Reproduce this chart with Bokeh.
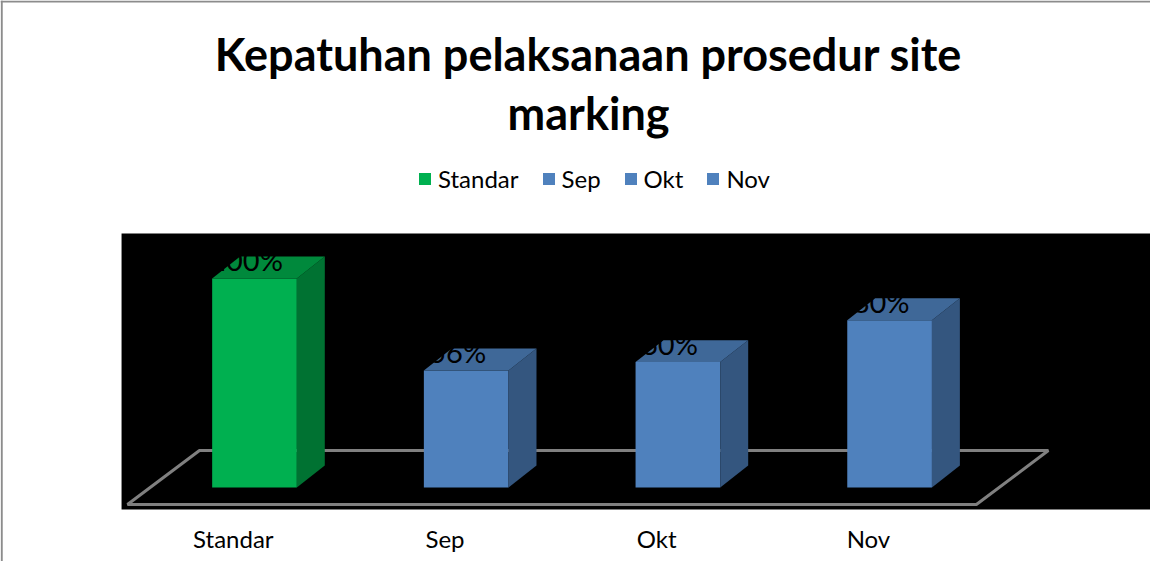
from bokeh.plotting import figure
from bokeh.models import Label, Legend, LegendItem, BoxAnnotation, Span, Range1d
from bokeh.embed import file_html
from bokeh.resources import INLINE
from bokeh.core.properties import value

# ---- data ----
categories = ["Standar", "Sep", "Okt", "Nov"]
values = [100, 56, 60, 80]
value_labels = ["100%", "56%", "60%", "80%"]
front_colors = ["#00B050", "#4F81BD", "#4F81BD", "#4F81BD"]
side_colors = ["#007232", "#34567F", "#34567F", "#34567F"]
top_colors = ["#00893C", "#3F6898", "#3F6898", "#3F6898"]
title_lines = ["Kepatuhan pelaksanaan prosedur site", "marking"]

# ---- style constants ----
HW = 0.2      # half width of the bar front
DX = 0.132    # 3D depth horizontal (x units)
DY = 10.5     # 3D depth vertical (y units)
FONT = "Lato"

p = figure(width=1150, height=561,
           x_range=Range1d(-1.19982, 4.23241), y_range=Range1d(-35.407, 233.014),
           output_backend="svg", toolbar_location=None, min_border=0,
           x_axis_location=None, y_axis_location=None)
p.grid.visible = False
p.outline_line_color = None
p.background_fill_color = "white"
p.border_fill_color = "white"

# black plot area
p.add_layout(BoxAnnotation(left=-0.628, right=4.5, bottom=-10.53, top=121.53,
                           fill_color="black", fill_alpha=1, line_color=None,
                           level="underlay"))

# outer border lines (left and top)
p.add_layout(Span(location=-1.194, dimension="height", line_color="#8c8c8c", line_width=2))
p.add_layout(Span(location=232.5, dimension="width", line_color="#8c8c8c", line_width=2))

# floor
n = len(categories)
f_y0, f_y1 = -8.1, 17.7
f_xl, f_xr = -0.60, (n - 1) + 0.41
f_shift = 0.34
p.patch(x=[f_xl, f_xr, f_xr + f_shift, f_xl + f_shift],
        y=[f_y0, f_y0, f_y1, f_y1],
        fill_color=None, line_color="#808080", line_width=3)

# bars
legend_items = []
for i, (cat, v) in enumerate(zip(categories, values)):
    r = p.quad(left=[i - HW], right=[i + HW], bottom=[0], top=[v],
               fill_color=front_colors[i], line_color=None)
    p.patch(x=[i + HW, i + HW + DX, i + HW + DX, i + HW],
            y=[0, DY, v + DY, v],
            fill_color=side_colors[i], line_color=None)
    p.patch(x=[i - HW, i + HW, i + HW + DX, i - HW + DX],
            y=[v, v, v + DY, v + DY],
            fill_color=top_colors[i], line_color=None)
    legend_items.append(LegendItem(label=cat, renderers=[r]))

# data labels (black text)
p.text(x=[i - 0.04 for i in range(n)], y=[v + 9 for v in values], text=value_labels,
       text_font=value(FONT), text_font_size="29px", text_color="black",
       text_align="center", text_baseline="alphabetic")

# category labels
p.text(x=[i - 0.1 for i in range(n)], y=[-24.5] * n, text=categories,
       text_font=value(FONT), text_font_size="24px", text_color="black",
       text_align="center", text_baseline="middle")

# title
p.add_layout(Label(x=1.578, y=207.2, text=title_lines[0], text_font=FONT,
                   text_font_size="45px", text_font_style="bold", text_color="black",
                   text_align="center", text_baseline="alphabetic"))
p.add_layout(Label(x=1.578, y=179.0, text=title_lines[1], text_font=FONT,
                   text_font_size="45px", text_font_style="bold", text_color="black",
                   text_align="center", text_baseline="alphabetic"))

# legend
legend = Legend(items=legend_items, orientation="horizontal", location=(417, 368),
                label_text_font=FONT, label_text_font_size="24px", label_text_color="black",
                glyph_width=15, glyph_height=15, label_standoff=6, spacing=22,
                padding=0, margin=0, border_line_alpha=0, background_fill_alpha=0)
p.add_layout(legend)

open("out.html", "w").write(file_html(p, INLINE))
